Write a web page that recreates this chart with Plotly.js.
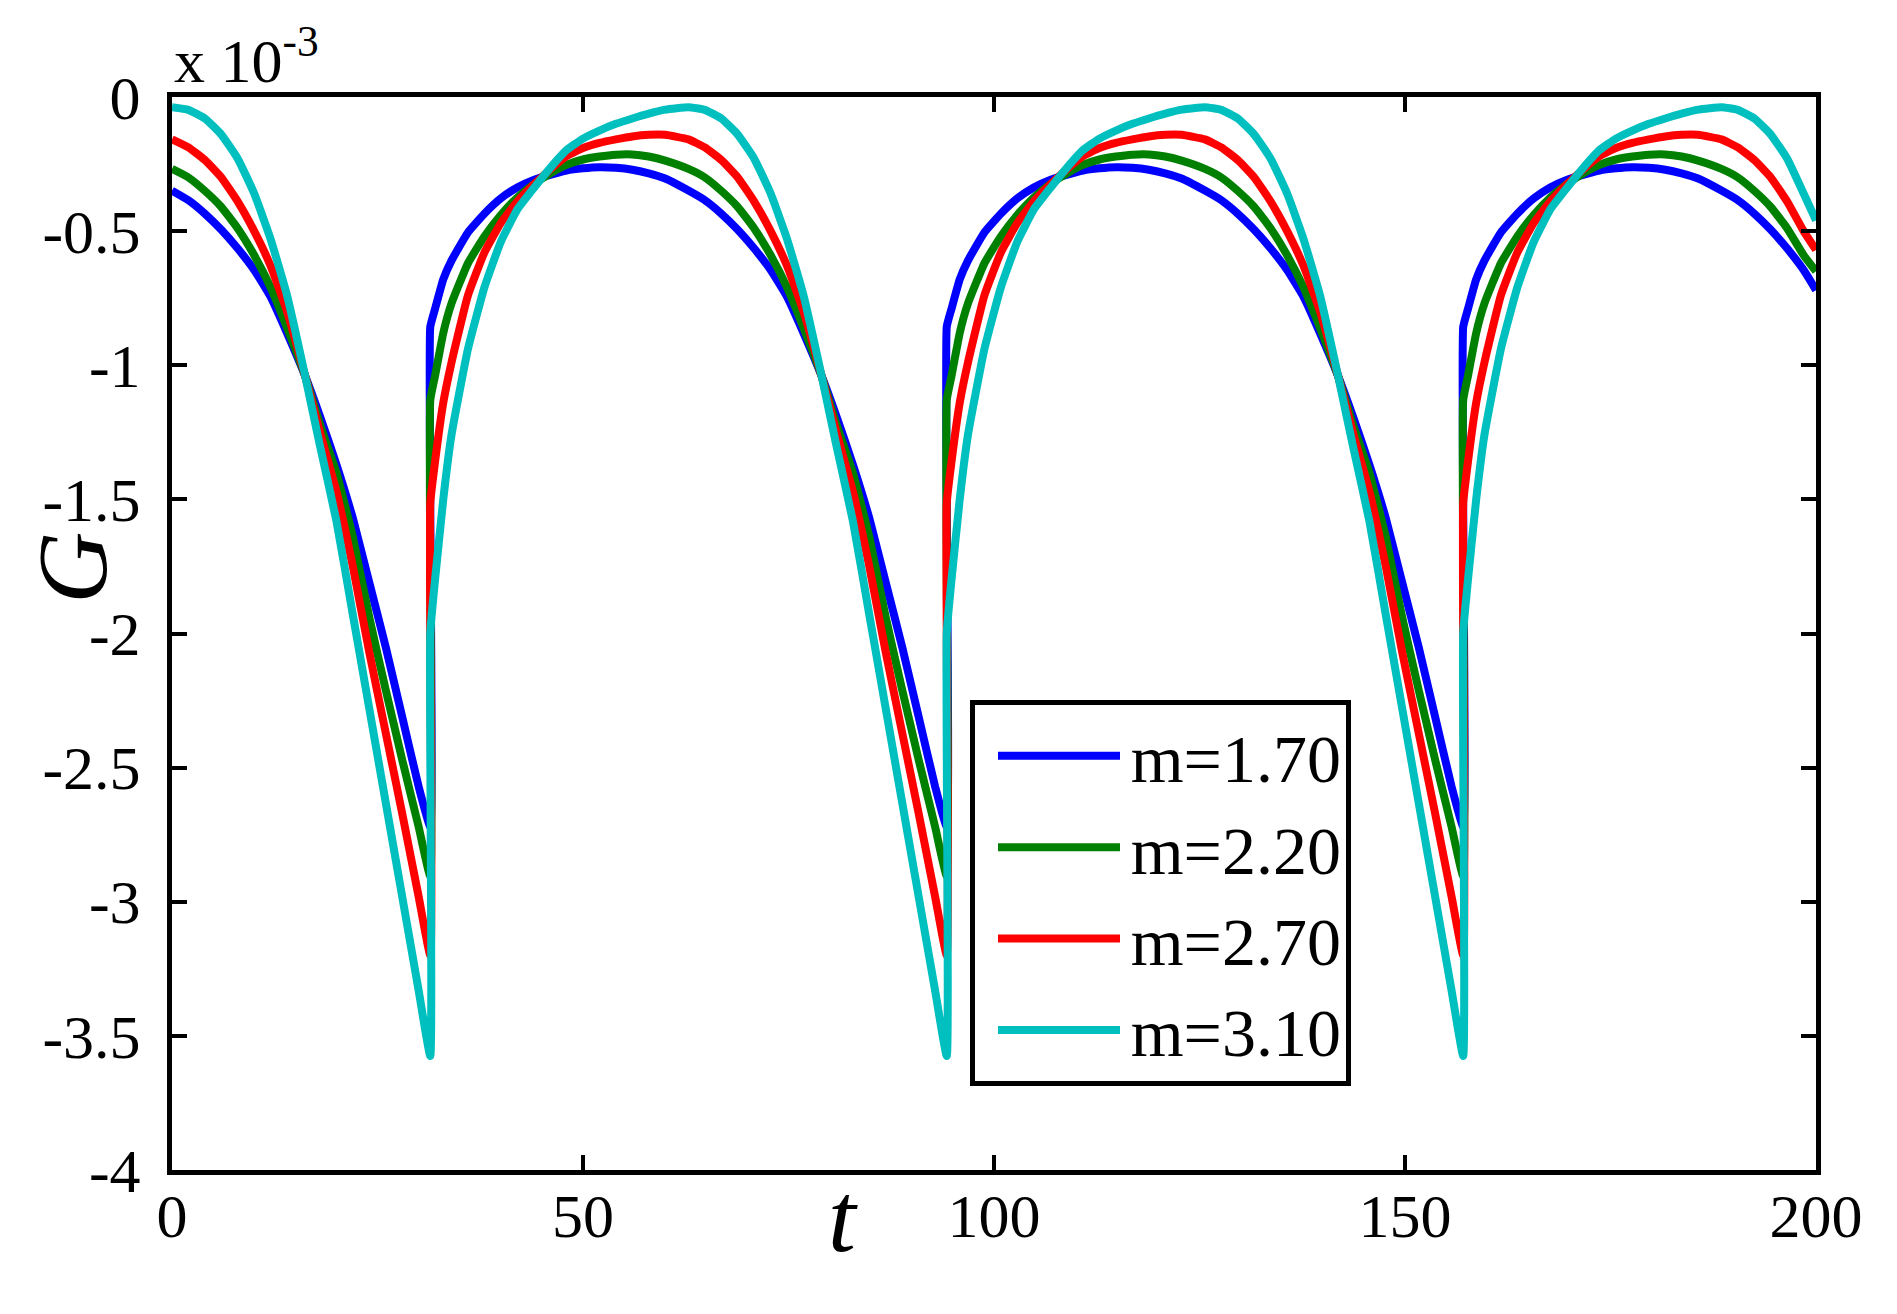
<!DOCTYPE html>
<html>
<head>
<meta charset="utf-8">
<script src="https://cdn.plot.ly/plotly-3.0.1.min.js"></script>
<style>
  html, body { margin: 0; padding: 0; background: #fff; }
  #chart { width: 1897px; height: 1314px; }
</style>
</head>
<body>
<div id="chart"></div>
<script>
// G(t), in units of 1e-3 (the axis shows "x 10^-3")
// the jumps sit at t = 31.42, 94.25, 157.08, so those t appear twice
const tValues = [
  0, 2, 4, 6, 8, 10, 12, 14, 16.2, 18, 20, 22, 24, 26, 28, 30, 31.42,
  31.42, 32, 33, 34, 36, 38, 40, 42, 44, 46, 48, 50, 52, 54, 56, 58, 60,
  62.83, 64.83, 66.83, 68.83, 70.83, 72.83, 74.83, 76.83, 79.03, 80.83, 82.83, 84.83, 86.83, 88.83, 90.83, 92.83, 94.25,
  94.25, 94.83, 95.83, 96.83, 98.83, 100.83, 102.83, 104.83, 106.83, 108.83, 110.83, 112.83, 114.83, 116.83, 118.83, 120.83, 122.83,
  125.66, 127.66, 129.66, 131.66, 133.66, 135.66, 137.66, 139.66, 141.86, 143.66, 145.66, 147.66, 149.66, 151.66, 153.66, 155.66, 157.08,
  157.08, 157.66, 158.66, 159.66, 161.66, 163.66, 165.66, 167.66, 169.66, 171.66, 173.66, 175.66, 177.66, 179.66, 181.66, 183.66, 185.66,
  188.5, 190.5, 192.5, 194.5, 196.5, 198.5, 200
];

const gM170 = [
  -0.349, -0.385, -0.435, -0.495, -0.565, -0.645, -0.745, -0.88, -1.04, -1.19, -1.37, -1.57, -1.81, -2.05, -2.31, -2.57, -2.72,
  -0.857, -0.79, -0.68, -0.61, -0.505, -0.435, -0.378, -0.337, -0.309, -0.29, -0.274, -0.266, -0.262, -0.264, -0.271, -0.285, -0.304,
  -0.349, -0.385, -0.435, -0.495, -0.565, -0.645, -0.745, -0.88, -1.04, -1.19, -1.37, -1.57, -1.81, -2.05, -2.31, -2.57, -2.72,
  -0.857, -0.79, -0.68, -0.61, -0.505, -0.435, -0.378, -0.337, -0.309, -0.29, -0.274, -0.266, -0.262, -0.264, -0.271, -0.285, -0.304,
  -0.349, -0.385, -0.435, -0.495, -0.565, -0.645, -0.745, -0.88, -1.04, -1.19, -1.37, -1.57, -1.81, -2.05, -2.31, -2.57, -2.72,
  -0.857, -0.79, -0.68, -0.61, -0.505, -0.435, -0.378, -0.337, -0.309, -0.29, -0.274, -0.266, -0.262, -0.264, -0.271, -0.285, -0.304,
  -0.349, -0.385, -0.435, -0.495, -0.565, -0.645, -0.72
];

const gM220 = [
  -0.268, -0.30, -0.35, -0.41, -0.49, -0.59, -0.71, -0.86, -1.04, -1.22, -1.40, -1.64, -1.94, -2.21, -2.47, -2.72, -2.905,
  -1.13, -1.04, -0.88, -0.77, -0.62, -0.52, -0.44, -0.375, -0.325, -0.285, -0.253, -0.233, -0.222, -0.215, -0.214, -0.222, -0.237,
  -0.268, -0.30, -0.35, -0.41, -0.49, -0.59, -0.71, -0.86, -1.04, -1.22, -1.40, -1.64, -1.94, -2.21, -2.47, -2.72, -2.905,
  -1.13, -1.04, -0.88, -0.77, -0.62, -0.52, -0.44, -0.375, -0.325, -0.285, -0.253, -0.233, -0.222, -0.215, -0.214, -0.222, -0.237,
  -0.268, -0.30, -0.35, -0.41, -0.49, -0.59, -0.71, -0.86, -1.04, -1.22, -1.40, -1.64, -1.94, -2.21, -2.47, -2.72, -2.905,
  -1.13, -1.04, -0.88, -0.77, -0.62, -0.52, -0.44, -0.375, -0.325, -0.285, -0.253, -0.233, -0.222, -0.215, -0.214, -0.222, -0.237,
  -0.268, -0.30, -0.35, -0.41, -0.49, -0.59, -0.65
];

const gM270 = [
  -0.158, -0.188, -0.235, -0.30, -0.39, -0.50, -0.63, -0.80, -1.04, -1.25, -1.47, -1.75, -2.07, -2.37, -2.67, -2.98, -3.2,
  -1.515, -1.36, -1.14, -0.99, -0.74, -0.58, -0.47, -0.39, -0.327, -0.27, -0.22, -0.19, -0.171, -0.158, -0.147, -0.141, -0.141,
  -0.158, -0.188, -0.235, -0.30, -0.39, -0.50, -0.63, -0.80, -1.04, -1.25, -1.47, -1.75, -2.07, -2.37, -2.67, -2.98, -3.2,
  -1.515, -1.36, -1.14, -0.99, -0.74, -0.58, -0.47, -0.39, -0.327, -0.27, -0.22, -0.19, -0.171, -0.158, -0.147, -0.141, -0.141,
  -0.158, -0.188, -0.235, -0.30, -0.39, -0.50, -0.63, -0.80, -1.04, -1.25, -1.47, -1.75, -2.07, -2.37, -2.67, -2.98, -3.2,
  -1.515, -1.36, -1.14, -0.99, -0.74, -0.58, -0.47, -0.39, -0.327, -0.27, -0.22, -0.19, -0.171, -0.158, -0.147, -0.141, -0.141,
  -0.158, -0.188, -0.235, -0.30, -0.39, -0.50, -0.57
];

const gM310 = [
  -0.038, -0.048, -0.08, -0.14, -0.23, -0.36, -0.53, -0.74, -1.04, -1.30, -1.58, -1.93, -2.28, -2.63, -2.98, -3.33, -3.575,
  -2.0, -1.80, -1.50, -1.26, -0.94, -0.71, -0.54, -0.42, -0.34, -0.265, -0.198, -0.155, -0.125, -0.10, -0.08, -0.062, -0.047,
  -0.038, -0.048, -0.08, -0.14, -0.23, -0.36, -0.53, -0.74, -1.04, -1.30, -1.58, -1.93, -2.28, -2.63, -2.98, -3.33, -3.575,
  -2.0, -1.80, -1.50, -1.26, -0.94, -0.71, -0.54, -0.42, -0.34, -0.265, -0.198, -0.155, -0.125, -0.10, -0.08, -0.062, -0.047,
  -0.038, -0.048, -0.08, -0.14, -0.23, -0.36, -0.53, -0.74, -1.04, -1.30, -1.58, -1.93, -2.28, -2.63, -2.98, -3.33, -3.575,
  -2.0, -1.80, -1.50, -1.26, -0.94, -0.71, -0.54, -0.42, -0.34, -0.265, -0.198, -0.155, -0.125, -0.10, -0.08, -0.062, -0.047,
  -0.038, -0.048, -0.08, -0.14, -0.23, -0.36, -0.46
];

const seriesNames = ['m=1.70', 'm=2.20', 'm=2.70', 'm=3.10'];
const seriesColors = ['#0000ff', '#008000', '#ff0000', '#00bfbf'];

const xTickVals = [0, 50, 100, 150, 200];
const xTickText = ['0', '50', '100', '150', '200'];
const yTickVals = [0, -0.5, -1, -1.5, -2, -2.5, -3, -3.5, -4];
const yTickText = ['0', '-0.5', '-1', '-1.5', '-2', '-2.5', '-3', '-3.5', '-4'];

const serif = 'Liberation Serif, Times New Roman, serif';

// the hair space only opens a small gap between the legend line and its label
const traces = [gM170, gM220, gM270, gM310].map((g, i) => ({
  x: tValues,
  y: g,
  mode: 'lines',
  name: '\u200a' + seriesNames[i],
  line: { color: seriesColors[i], width: 8, shape: 'spline', smoothing: 0.4 }
}));

const axisCommon = {
  showline: true,
  linecolor: '#000',
  linewidth: 5,
  mirror: 'ticks',
  ticks: 'inside',
  ticklen: 15,
  tickwidth: 4,
  tickcolor: '#000',
  showgrid: false,
  zeroline: false,
  tickfont: { family: serif, size: 62, color: '#000' }
};

const layout = {
  width: 1897,
  height: 1314,
  margin: { l: 172, r: 81, t: 97, b: 144 },
  paper_bgcolor: '#fff',
  plot_bgcolor: '#fff',
  showlegend: true,
  xaxis: Object.assign({}, axisCommon, {
    range: [0, 200],
    tickmode: 'array',
    tickvals: xTickVals,
    ticktext: xTickText,
    ticklabelstandoff: -12
  }),
  yaxis: Object.assign({}, axisCommon, {
    range: [-4, 0],
    tickmode: 'array',
    tickvals: yTickVals,
    ticktext: yTickText,
    ticklabelstandoff: 14
  }),
  legend: {
    x: 0.4854,
    y: 0.438,
    xanchor: 'left',
    yanchor: 'top',
    bgcolor: '#fff',
    bordercolor: '#000',
    borderwidth: 5,
    itemwidth: 122,
    indentation: 18,
    font: { family: serif, size: 68, color: '#000' }
  },
  annotations: [
    {
      text: 'x 10<sup>-3</sup>',
      xref: 'paper', yref: 'paper',
      x: 0, y: 1, xanchor: 'left', yanchor: 'bottom',
      showarrow: false,
      font: { family: serif, size: 62, color: '#000' }
    },
    {
      text: '<i>G</i>',
      xref: 'paper', yref: 'paper',
      x: -0.061, y: 0.561, xanchor: 'center', yanchor: 'middle',
      textangle: -90,
      showarrow: false,
      font: { family: serif, size: 100, color: '#000' }
    },
    {
      text: '<i>t</i>',
      xref: 'paper', yref: 'paper',
      x: 0.408, y: -0.044, xanchor: 'center', yanchor: 'middle',
      showarrow: false,
      font: { family: serif, size: 100, color: '#000' }
    }
  ]
};

Plotly.newPlot('chart', traces, layout, { displayModeBar: false, staticPlot: true });
</script>
</body>
</html>
